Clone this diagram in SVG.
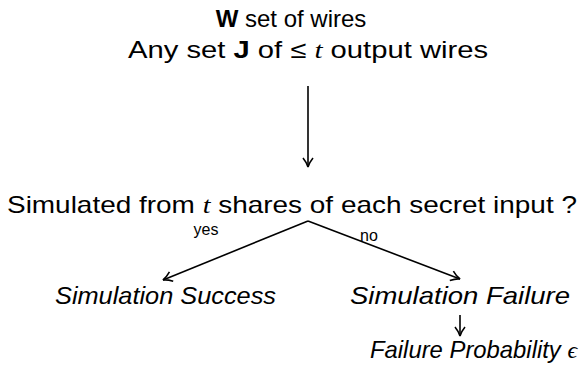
<svg xmlns="http://www.w3.org/2000/svg" width="582" height="385" viewBox="0 0 582 385">
<style>
text{font-family:"Liberation Sans","DejaVu Sans",sans-serif;font-size:24px;fill:#000}
.it{font-style:italic}
.lbl{font-size:16px}
.b{font-weight:bold}
.m{font-family:"Liberation Serif",serif;font-style:italic}
.c{stroke:#000;stroke-width:1.6;fill:none}
</style>
<defs>
<marker id="ah" markerWidth="12" markerHeight="12" refX="10" refY="6" orient="auto" markerUnits="userSpaceOnUse">
<path d="M1,1 Q6,5 10,6 Q6,7 1,11" fill="none" stroke="#000" stroke-width="1.6"/>
</marker>
</defs>
<g id="top">
<text x="291" y="27" text-anchor="middle"><tspan class="b">W</tspan> set of wires</text>
<text x="128" y="58" textLength="360" lengthAdjust="spacingAndGlyphs">Any set <tspan class="b">J</tspan> of ≤ <tspan class="m">t</tspan> output wires</text>
</g>
<g id="question">
<text x="7" y="213" textLength="570" lengthAdjust="spacingAndGlyphs">Simulated from <tspan class="m">t</tspan> shares of each secret input ?</text>
</g>
<g id="success">
<text class="it" x="55" y="304" textLength="221" lengthAdjust="spacingAndGlyphs">Simulation Success</text>
</g>
<g id="failure">
<text class="it" x="350" y="304" textLength="220" lengthAdjust="spacingAndGlyphs">Simulation Failure</text>
</g>
<g id="prob">
<text class="it" x="370" y="358" textLength="207" lengthAdjust="spacingAndGlyphs">Failure Probability <tspan class="m">ϵ</tspan></text>
</g>
<g id="connectors">
<line class="c" x1="308" y1="86" x2="308" y2="167" marker-end="url(#ah)"/>
<line class="c" x1="308" y1="221" x2="163" y2="280" marker-end="url(#ah)"/>
<line class="c" x1="308" y1="221" x2="460" y2="279" marker-end="url(#ah)"/>
<line class="c" x1="460" y1="315" x2="460" y2="336" marker-end="url(#ah)"/>
<text class="lbl" x="206" y="235" text-anchor="middle">yes</text>
<text class="lbl" x="369" y="241" text-anchor="middle">no</text>
</g>
</svg>
